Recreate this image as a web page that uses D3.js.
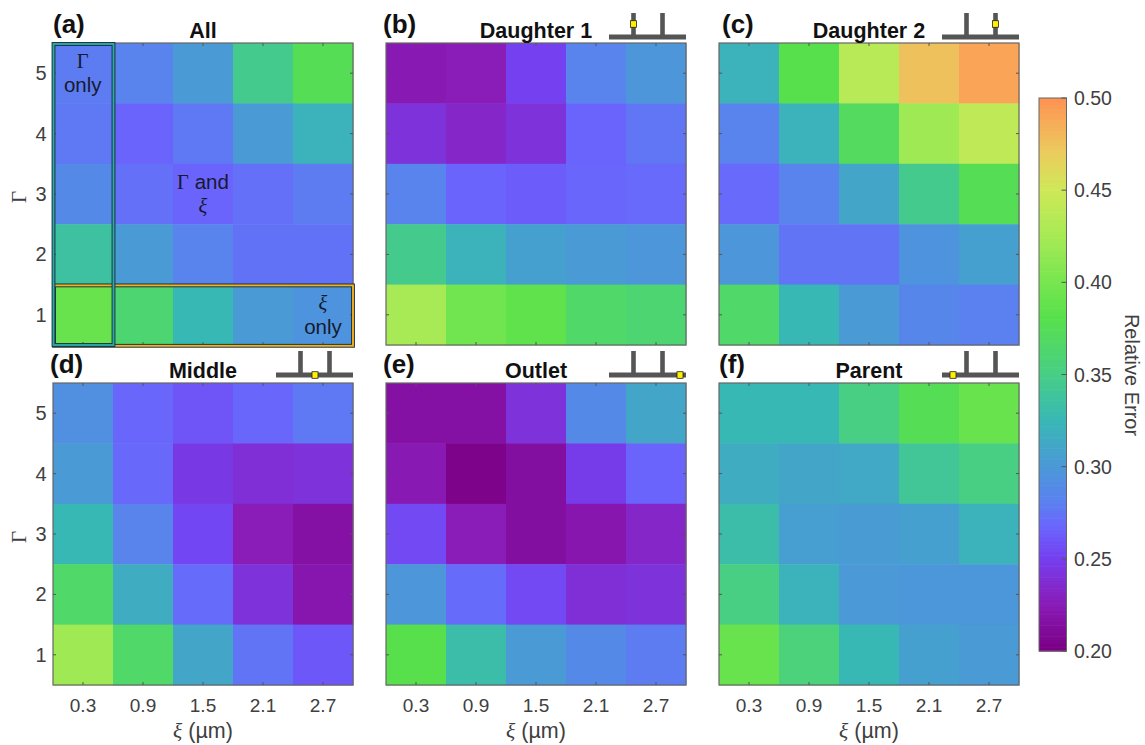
<!DOCTYPE html>
<html><head><meta charset="utf-8">
<script src="https://cdn.jsdelivr.net/npm/d3@7"></script>
<style>
html,body{margin:0;padding:0;background:#fff}
svg{display:block}
text{font-family:"Liberation Sans",Arial,sans-serif}
</style></head><body>
<svg id="c" width="1145" height="745"></svg>
<script>
const xiLabels = ["0.3","0.9","1.5","2.1","2.7"];
const gammaLabels = ["5","4","3","2","1"];
const colorbarTicks = [0.20,0.25,0.30,0.35,0.40,0.45,0.50];
const colorDomain = [0.20,0.225,0.25,0.265,0.28,0.30,0.325,0.35,0.38,0.40,0.425,0.45,0.47,0.50];
const colorRange = ["#7a0084","#8a1cb8","#7440f0","#6b62fd","#5b80f0","#4a9ad6","#38b8b4","#48cf84","#58e04c","#78e650","#a8ea55","#cfe858","#eccb5e","#ff9052"];

const allErr = [[.278,.282,.30,.345,.375],[.276,.266,.276,.30,.32],[.287,.272,.266,.272,.278],[.335,.30,.282,.273,.273],[.39,.36,.325,.30,.295]];
const daughter1Err = [[.222,.225,.25,.282,.297],[.24,.232,.24,.266,.275],[.282,.266,.263,.267,.269],[.345,.32,.305,.30,.297],[.425,.395,.385,.365,.36]];
const daughter2Err = [[.32,.38,.435,.475,.49],[.282,.32,.37,.42,.44],[.269,.282,.31,.345,.375],[.297,.274,.274,.295,.305],[.365,.325,.30,.285,.28]];
const middleErr = [[.292,.267,.259,.267,.276],[.30,.268,.245,.238,.24],[.325,.283,.253,.225,.215],[.365,.315,.27,.24,.22],[.42,.365,.31,.274,.26]];
const outletErr = [[.215,.215,.24,.287,.31],[.222,.203,.213,.247,.266],[.254,.225,.213,.22,.232],[.297,.27,.254,.238,.24],[.38,.33,.30,.287,.278]];
const parentErr = [[.325,.325,.35,.375,.39],[.315,.31,.312,.34,.35],[.33,.304,.302,.305,.32],[.35,.32,.299,.298,.298],[.39,.355,.325,.305,.3]];

const panelNames = ["All","Daughter 1","Daughter 2","Middle","Outlet","Parent"];
const panelTags = ["(a)","(b)","(c)","(d)","(e)","(f)"];
const panelData = [allErr,daughter1Err,daughter2Err,middleErr,outletErr,parentErr];
const probeSites = [null,"d1","d2","mid","out","par"];

const svg = d3.select("#c");
const color = d3.scaleLinear().domain(colorDomain).range(colorRange).clamp(true);
const colX = [53,386,719], rowY = [43,383];
const W = 300, H = 302;
const tagDx = [0,-3,3,-3,-3,0];
const INK = "#404040", FRAME = "#666";

panelData.forEach((mat,i)=>{
  const c = i%3, r = Math.floor(i/3);
  const g = svg.append("g").attr("transform",`translate(${colX[c]},${rowY[r]})`);
  const x = d3.scaleBand().domain(xiLabels).range([0,W]);
  const y = d3.scaleBand().domain(gammaLabels).range([0,H]);
  const cells = mat.flatMap((row,ri)=>row.map((v,ci)=>({g:gammaLabels[ri],x:xiLabels[ci],v})));
  g.selectAll("rect.cell").data(cells).join("rect").attr("class","cell")
    .attr("x",d=>x(d.x)).attr("y",d=>y(d.g))
    .attr("width",x.bandwidth()+0.5).attr("height",y.bandwidth()+0.5)
    .attr("fill",d=>color(d.v));
  g.append("rect").attr("width",W).attr("height",H).attr("fill","none").attr("stroke",FRAME).attr("stroke-width",1.2);

  const tk = g.append("g").attr("stroke","#555").attr("stroke-width",1);
  xiLabels.forEach(l=>{const p=x(l)+x.bandwidth()/2;
    tk.append("line").attr("x1",p).attr("x2",p).attr("y1",0).attr("y2",3);
    tk.append("line").attr("x1",p).attr("x2",p).attr("y1",H).attr("y2",H-3);});
  gammaLabels.forEach(l=>{const p=y(l)+y.bandwidth()/2;
    tk.append("line").attr("y1",p).attr("y2",p).attr("x1",0).attr("x2",3);
    tk.append("line").attr("y1",p).attr("y2",p).attr("x1",W).attr("x2",W-3);});

  if(c===0){
    g.selectAll("text.yt").data(gammaLabels).join("text").attr("class","yt")
      .attr("x",-12).attr("y",d=>y(d)+y.bandwidth()/2+7).attr("text-anchor","middle")
      .attr("font-size",20).attr("fill",INK).text(d=>d);
    g.append("text").attr("transform",`translate(-27,${H/2+3}) rotate(-90)`)
      .attr("text-anchor","middle").attr("font-size",21).attr("fill",INK)
      .style("font-family","'Liberation Serif',serif").text("Γ");
  }
  if(r===1){
    g.selectAll("text.xt").data(xiLabels).join("text").attr("class","xt")
      .attr("x",d=>x(d)+x.bandwidth()/2).attr("y",H+27).attr("text-anchor","middle")
      .attr("font-size",19).attr("fill",INK).text(d=>d);
    const t = g.append("text").attr("x",W/2).attr("y",H+53).attr("text-anchor","middle")
      .attr("font-size",21.5).attr("fill",INK);
    t.append("tspan").style("font-family","'Liberation Serif',serif").attr("font-style","italic").text("ξ");
    t.append("tspan").text(" (µm)");
  }
  g.append("text").attr("x",W/2).attr("y",-5.5).attr("text-anchor","middle")
    .attr("font-size",21.5).attr("font-weight","bold").attr("fill","#111").text(panelNames[i]);
  g.append("text").attr("x",tagDx[i]).attr("y",-10).attr("font-size",26).attr("font-weight","bold").attr("fill","#111").text(panelTags[i]);

  if(probeSites[i]){
    const s = g.append("g").attr("transform",`translate(${W-77},${r===0?-30:-32})`);
    s.append("rect").attr("x",0).attr("y",21.5).attr("width",77).attr("height",5).attr("fill","#555");
    s.append("rect").attr("x",22.2).attr("y",0).attr("width",4.6).attr("height",24).attr("fill","#555");
    s.append("rect").attr("x",51.2).attr("y",0).attr("width",4.6).attr("height",24).attr("fill","#555");
    const site = {d1:[24.5,11],d2:[53.5,11],mid:[39,24],out:[71,24],par:[11,24]}[probeSites[i]];
    s.append("rect").attr("x",site[0]-3).attr("y",site[1]-3.3).attr("width",6).attr("height",6.6)
      .attr("fill","#ffef00").attr("stroke","#222").attr("stroke-width",.8);
  }

  if(i===0){
    const bw = x.bandwidth(), bh = y.bandwidth();
    const box = (bx,by,w,h,col)=>{
      g.append("rect").attr("x",bx).attr("y",by).attr("width",w).attr("height",h)
        .attr("fill","none").attr("stroke","#153038").attr("stroke-width",3.8);
      g.append("rect").attr("x",bx).attr("y",by).attr("width",w).attr("height",h)
        .attr("fill","none").attr("stroke",col).attr("stroke-width",1.9);
    };
    box(1,y("1")+0.8,W-1,bh,"#f5b020");
    box(0.5,1,bw,H-1,"#2fa8a8");
    const lab = (cx,cy,parts)=>{
      parts.forEach((p,k)=>{
        const t=g.append("text").attr("x",cx).attr("y",cy+k*24).attr("text-anchor","middle")
          .attr("font-size",20.5).attr("fill","#161a30");
        p.forEach(([str,math])=>{
          const ts=t.append("tspan").text(str);
          if(math) ts.style("font-family","'Liberation Serif',serif").attr("font-style",str==="ξ"?"italic":"normal");
        });
      });
    };
    lab(29.7,25,[[["Γ",1]],[["only",0]]]);
    lab(150,146,[[["Γ",1],[" and",0]],[["ξ",1]]]);
    lab(270,267,[[["ξ",1]],[["only",0]]]);
  }
});

const cbY = d3.scaleLinear().domain([0.20,0.50]).range([651,98]);
const cbX = 1039, cbW = 27.5;
const samples = d3.range(0.20,0.4999,0.002);
svg.selectAll("rect.cb").data(samples).join("rect").attr("class","cb")
  .attr("x",cbX).attr("width",cbW)
  .attr("y",d=>cbY(Math.min(d+0.002,0.5)))
  .attr("height",d=>cbY(d)-cbY(Math.min(d+0.002,0.5))+0.6)
  .attr("fill",d=>color(d));
svg.append("rect").attr("x",cbX).attr("y",cbY(0.5)).attr("width",cbW).attr("height",cbY(0.2)-cbY(0.5))
  .attr("fill","none").attr("stroke",FRAME).attr("stroke-width",1);
svg.selectAll("line.cbt").data(colorbarTicks).join("line").attr("class","cbt")
  .attr("x1",cbX+cbW-5).attr("x2",cbX+cbW).attr("y1",d=>cbY(d)).attr("y2",d=>cbY(d))
  .attr("stroke","#555");
svg.selectAll("text.cbl").data(colorbarTicks).join("text").attr("class","cbl")
  .attr("x",1074).attr("y",d=>cbY(d)+7).attr("font-size",19.5).attr("fill",INK)
  .text(d=>d3.format(".2f")(d));
svg.append("text").attr("transform",`translate(1125,375) rotate(90)`).attr("text-anchor","middle")
  .attr("font-size",20).attr("fill",INK).text("Relative Error");
</script>
</body></html>
